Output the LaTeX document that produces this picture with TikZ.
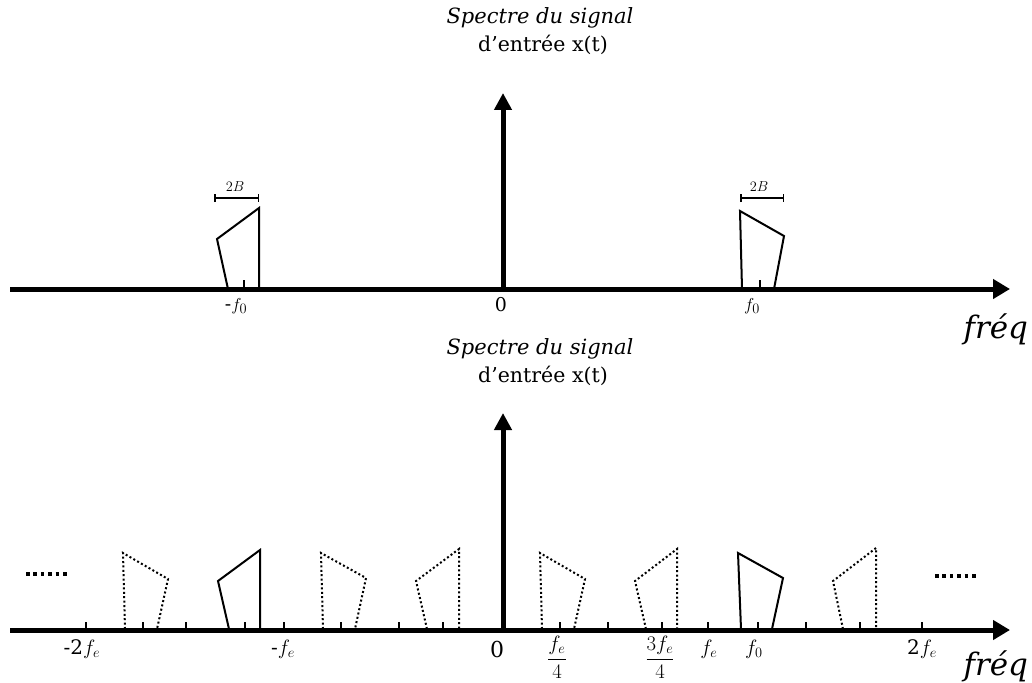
\documentclass[tikz,border=0pt]{standalone}
\usepackage{amsmath}
\usepackage{fontspec}
\setmainfont{DejaVu Serif}
\usetikzlibrary{arrows.meta}
\begin{document}
\begin{tikzpicture}[x=1pt,y=-1pt,
  axisline/.style={line width=5pt,-{Triangle[length=17pt,width=19pt]}},
  vertarrow/.style={line width=5pt,-{Triangle[length=17pt,width=17pt]}},
  specsolid/.style={line width=2pt,line join=miter},
  specdot/.style={line width=2pt,dash pattern=on 2pt off 2.4pt},
  tickline/.style={line width=2pt},
  bwbar/.style={line width=1.5pt,{Bar[width=8pt]}-{Bar[width=8pt]}},
  bigdots/.style={line width=3.6pt,dash pattern=on 3.6pt off 3.8pt},
  title/.style={font=\fontsize{21}{24}\selectfont\itshape,anchor=base},
  subtitle/.style={font=\fontsize{20.5}{24}\selectfont,anchor=base},
  freqlbl/.style={font=\fontsize{31}{35}\selectfont\itshape,anchor=base west},
  lbl/.style={font=\fontsize{19}{22}\selectfont},
  lblbig/.style={font=\fontsize{20}{24}\selectfont},
  fraclbl/.style={font=\fontsize{20}{24}\selectfont,inner sep=0pt},
  small/.style={font=\fontsize{15}{17}\selectfont}]
\useasboundingbox (0,0) rectangle (1032,682);

% ===== top panel =====
\coordinate (a1s) at (10,289);
\coordinate (a1e) at (1010,289);
\coordinate (v1s) at (503,289);
\coordinate (v1e) at (503,93);

\draw[specsolid] (228,289) -- (217,239) -- (259,208) -- (259,289);
\draw[specsolid] (742,289) -- (740,211) -- (784,236) -- (774,289);
\coordinate (t1a) at (244,289); \coordinate (t1b) at (244,280);
\coordinate (t2a) at (760,289); \coordinate (t2b) at (760,280);
\draw[tickline] (t1a) -- (t1b);
\draw[tickline] (t2a) -- (t2b);
\coordinate (b1a) at (214,198); \coordinate (b1b) at (259,198);
\coordinate (b2a) at (740,198); \coordinate (b2b) at (784,198);
\draw[bwbar] (b1a) -- (b1b);
\draw[bwbar] (b2a) -- (b2b);
\node[small] (bw1) at (235,187) {$2B$};
\node[small] (bw2) at (759,187) {$2B$};

\draw[axisline] (a1s) -- (a1e);
\draw[vertarrow] (v1s) -- (v1e);

\node[title] (ti1) at (540,24) {Spectre du signal};
\node[subtitle] (st1) at (543,52) {d’entrée x(t)};
\node[lbl] (l1a) at (236,306) {-$f_0$};
\node[lbl] (l1b) at (501,305) {0};
\node[lbl] (l1c) at (752,306) {$f_0$};
\node[freqlbl] (fq1) at (960,338) {fréq};

% ===== bottom panel =====
\coordinate (a2s) at (10,630);
\coordinate (a2e) at (1010,630);
\coordinate (v2s) at (503,630);
\coordinate (v2e) at (503,413);

\draw[specdot]   (125,629) -- (123,553) -- (168,579) -- (157,629);
\draw[specsolid] (229,629) -- (218,581) -- (260,550) -- (260,629);
\draw[specdot]   (323,629) -- (321,553) -- (366,578) -- (355,629);
\draw[specdot]   (427,629) -- (416,581) -- (459,549) -- (459,629);
\draw[specdot]   (542,629) -- (540,553) -- (585,579) -- (574,629);
\draw[specdot]   (646,629) -- (635,581) -- (677,549) -- (677,629);
\draw[specsolid] (741,629) -- (738,553) -- (783,578) -- (772,629);
\draw[specdot]   (843,629) -- (833,581) -- (876,548) -- (876,629);

\foreach \xx in {86,143,186,245,284,341,399,443,560,608,662,708,758,806,860,922}{
  \coordinate (tk\xx a) at (\xx,630);
  \coordinate (tk\xx b) at (\xx,622);
  \draw[tickline] (tk\xx a) -- (tk\xx b);
}

\coordinate (d1a) at (26,574); \coordinate (d1b) at (68,574);
\coordinate (d2a) at (935,576); \coordinate (d2b) at (977,576);
\draw[bigdots] (d1a) -- (d1b);
\draw[bigdots] (d2a) -- (d2b);

\draw[axisline] (a2s) -- (a2e);
\draw[vertarrow] (v2s) -- (v2e);

\node[title] (ti2) at (540,354) {Spectre du signal};
\node[subtitle] (st2) at (543,382) {d’entrée x(t)};
\node[lblbig] (m2fe) at (82,649) {-2$f_e$};
\node[lblbig] (mfe) at (283,649) {-$f_e$};
\node[font=\fontsize{22}{26}\selectfont] (z2) at (497,649) {0};
\node[fraclbl] (fe4) at (557,657) {$\dfrac{f_e}{4}$};
\node[fraclbl] (tfe4) at (660,657) {$\dfrac{3f_e}{4}$};
\node[lblbig] (fe) at (709,649) {$f_e$};
\node[lblbig] (f0) at (754,649) {$f_0$};
\node[lblbig] (tfe) at (922,649) {2$f_e$};
\node[freqlbl] (fq2) at (960,675) {fréq};
\end{tikzpicture}
\end{document}
